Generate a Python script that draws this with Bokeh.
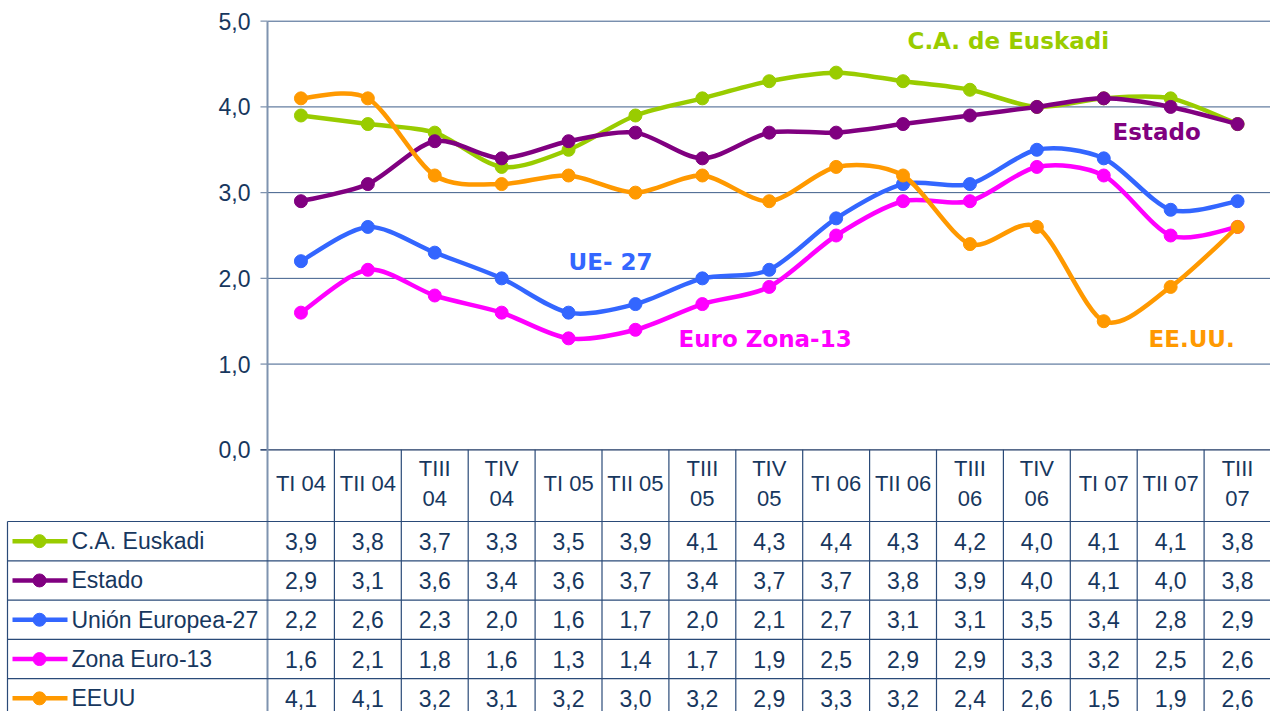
from bokeh.plotting import figure
from bokeh.models import Range1d, ColumnDataSource
from bokeh.core.properties import value
from bokeh.embed import file_html
from bokeh.resources import INLINE

# ---------------- data ----------------
quarters = ["TI 04", "TII 04", "TIII 04", "TIV 04", "TI 05", "TII 05", "TIII 05", "TIV 05",
            "TI 06", "TII 06", "TIII 06", "TIV 06", "TI 07", "TII 07", "TIII 07"]
euskadi = [3.9, 3.8, 3.7, 3.3, 3.5, 3.9, 4.1, 4.3, 4.4, 4.3, 4.2, 4.0, 4.1, 4.1, 3.8]
estado = [2.9, 3.1, 3.6, 3.4, 3.6, 3.7, 3.4, 3.7, 3.7, 3.8, 3.9, 4.0, 4.1, 4.0, 3.8]
ue27 = [2.2, 2.6, 2.3, 2.0, 1.6, 1.7, 2.0, 2.1, 2.7, 3.1, 3.1, 3.5, 3.4, 2.8, 2.9]
zona_euro = [1.6, 2.1, 1.8, 1.6, 1.3, 1.4, 1.7, 1.9, 2.5, 2.9, 2.9, 3.3, 3.2, 2.5, 2.6]
eeuu = [4.1, 4.1, 3.2, 3.1, 3.2, 3.0, 3.2, 2.9, 3.3, 3.2, 2.4, 2.6, 1.5, 1.9, 2.6]

series_names = ["C.A. Euskadi", "Estado", "Unión Europea-27", "Zona Euro-13", "EEUU"]
series_values = [euskadi, estado, ue27, zona_euro, eeuu]
series_colors = ["#99CC00", "#800080", "#3366FF", "#FF00FF", "#FF9900"]
chart_labels = ["C.A. de Euskadi", "Estado", "UE- 27", "Euro Zona-13", "EE.UU."]
y_ticks = [0, 1, 2, 3, 4, 5]
y_tick_labels = ["0,0", "1,0", "2,0", "3,0", "4,0", "5,0"]

# ---------------- layout (pixel geometry) ----------------
WIDTH, HEIGHT = 1270, 711
W = 66.9      # px per category column
U = 85.72     # px per unit on value axis
X0 = 267.0    # px of the value axis
Y0 = 449.3    # px of value 0 (from top)


def px_x(px):
    return (px - X0) / W


def px_y(py):
    return (Y0 - py) / U


TEXT = "#17375E"
GRID = "#3D5D8A"
TABLE_LINE = "#2A4A78"
FONT = value("Liberation Sans")
BOLD_FONT = value("DejaVu Sans")
FS = "22px"

p = figure(width=WIDTH, height=HEIGHT, output_backend="svg", toolbar_location=None,
           x_range=Range1d(px_x(0), px_x(WIDTH)), y_range=Range1d(px_y(HEIGHT), px_y(0)),
           x_axis_type=None, y_axis_type=None, min_border=0)
p.grid.visible = False
p.outline_line_color = None
p.background_fill_color = "white"
p.border_fill_color = "white"

n = len(quarters)
xs = [i + 0.5 for i in range(n)]

# gridlines
grid_vals = [t for t in y_ticks if t > 0]
p.segment(x0=[0] * len(grid_vals), x1=[n] * len(grid_vals), y0=grid_vals, y1=grid_vals,
          line_color=GRID, line_width=1)
# tick marks
p.segment(x0=[px_x(260)] * len(y_ticks), x1=[0] * len(y_ticks), y0=y_ticks, y1=y_ticks,
          line_color="#7F93AF", line_width=1.3)
# zero line
p.segment(x0=[px_x(260)], x1=[n], y0=[0], y1=[0], line_color="#1F3864", line_width=1.3)
# y axis line
p.segment(x0=[0], x1=[0], y0=[y_ticks[-1]], y1=[px_y(HEIGHT)], line_color="#7F93AF", line_width=2)
# tick labels
p.text(x=[px_x(250)] * len(y_ticks), y=y_ticks, text=y_tick_labels, text_align="right",
       text_baseline="middle", text_font=FONT, text_font_size="23px", text_color=TEXT)


# ---------------- smooth lines ----------------
def bezier_src(ys, k=7.0):
    pts = list(zip(xs, ys))
    d = dict(x0=[], y0=[], x1=[], y1=[], cx0=[], cy0=[], cx1=[], cy1=[])
    for i in range(n - 1):
        pa = pts[i - 1] if i > 0 else pts[i]
        pb = pts[i]
        pc = pts[i + 1]
        pd = pts[i + 2] if i + 2 < n else pts[i + 1]
        d["x0"].append(pb[0]); d["y0"].append(pb[1])
        d["x1"].append(pc[0]); d["y1"].append(pc[1])
        d["cx0"].append(pb[0] + (pc[0] - pa[0]) / k); d["cy0"].append(pb[1] + (pc[1] - pa[1]) / k)
        d["cx1"].append(pc[0] - (pd[0] - pb[0]) / k); d["cy1"].append(pc[1] - (pd[1] - pb[1]) / k)
    return ColumnDataSource(d)


for ys, col in zip(series_values, series_colors):
    p.bezier(x0="x0", y0="y0", x1="x1", y1="y1", cx0="cx0", cy0="cy0", cx1="cx1", cy1="cy1",
             source=bezier_src(ys), line_color=col, line_width=4.5)
    p.scatter(x=xs, y=ys, size=13, fill_color=col, line_color=col)

# chart labels
label_x = [px_x(907), px_x(1112), px_x(568), px_x(678), px_x(1148)]
label_y = [px_y(40), px_y(131), px_y(261), px_y(338), px_y(338)]
p.text(x=label_x, y=label_y, text=chart_labels, text_color=series_colors, text_align="left",
       text_baseline="middle", text_font=BOLD_FONT, text_font_style="bold", text_font_size="23px")

# ---------------- data table ----------------
header_bottom = 521.0
row_h = 39.3
rows_y = [header_bottom + row_h * (k + 0.5) for k in range(len(series_names))]
bounds_y = [header_bottom + row_h * k for k in range(len(series_names) + 1)]

# horizontal lines
p.segment(x0=[px_x(7)] * len(bounds_y), x1=[n] * len(bounds_y),
          y0=[px_y(b) for b in bounds_y], y1=[px_y(b) for b in bounds_y],
          line_color=TABLE_LINE, line_width=1.2)
# vertical lines (column separators)
vx = list(range(1, n + 1))
p.segment(x0=vx, x1=vx, y0=[0] * len(vx), y1=[px_y(HEIGHT)] * len(vx),
          line_color=TABLE_LINE, line_width=1.2)
# left border
p.segment(x0=[px_x(7)], x1=[px_x(7)], y0=[px_y(header_bottom)], y1=[px_y(HEIGHT)],
          line_color=TABLE_LINE, line_width=1.2)

# header labels
header_text = [q.replace(" ", "\n") if q.startswith(("TIII", "TIV")) else q for q in quarters]
p.text(x=xs, y=[px_y(483)] * n, text=header_text, text_align="center", text_baseline="middle",
       text_font=FONT, text_font_size=FS, text_color=TEXT, text_line_height=1.2)

# rows
for k, (name, ys, col) in enumerate(zip(series_names, series_values, series_colors)):
    yc = px_y(rows_y[k])
    p.segment(x0=[px_x(12)], x1=[px_x(67)], y0=[yc], y1=[yc], line_color=col, line_width=4.5)
    p.scatter(x=[px_x(39)], y=[yc], size=13, fill_color=col, line_color=col)
    p.text(x=[px_x(71)], y=[yc], text=[name], text_align="left", text_baseline="middle",
           text_font=FONT, text_font_size="23px", text_color=TEXT)
    p.text(x=xs, y=[yc] * n, text=[f"{v:.1f}".replace(".", ",") for v in ys],
           text_align="center", text_baseline="middle", text_font=FONT, text_font_size="23px",
           text_color=TEXT)

open("out.html", "w").write(file_html(p, INLINE))
